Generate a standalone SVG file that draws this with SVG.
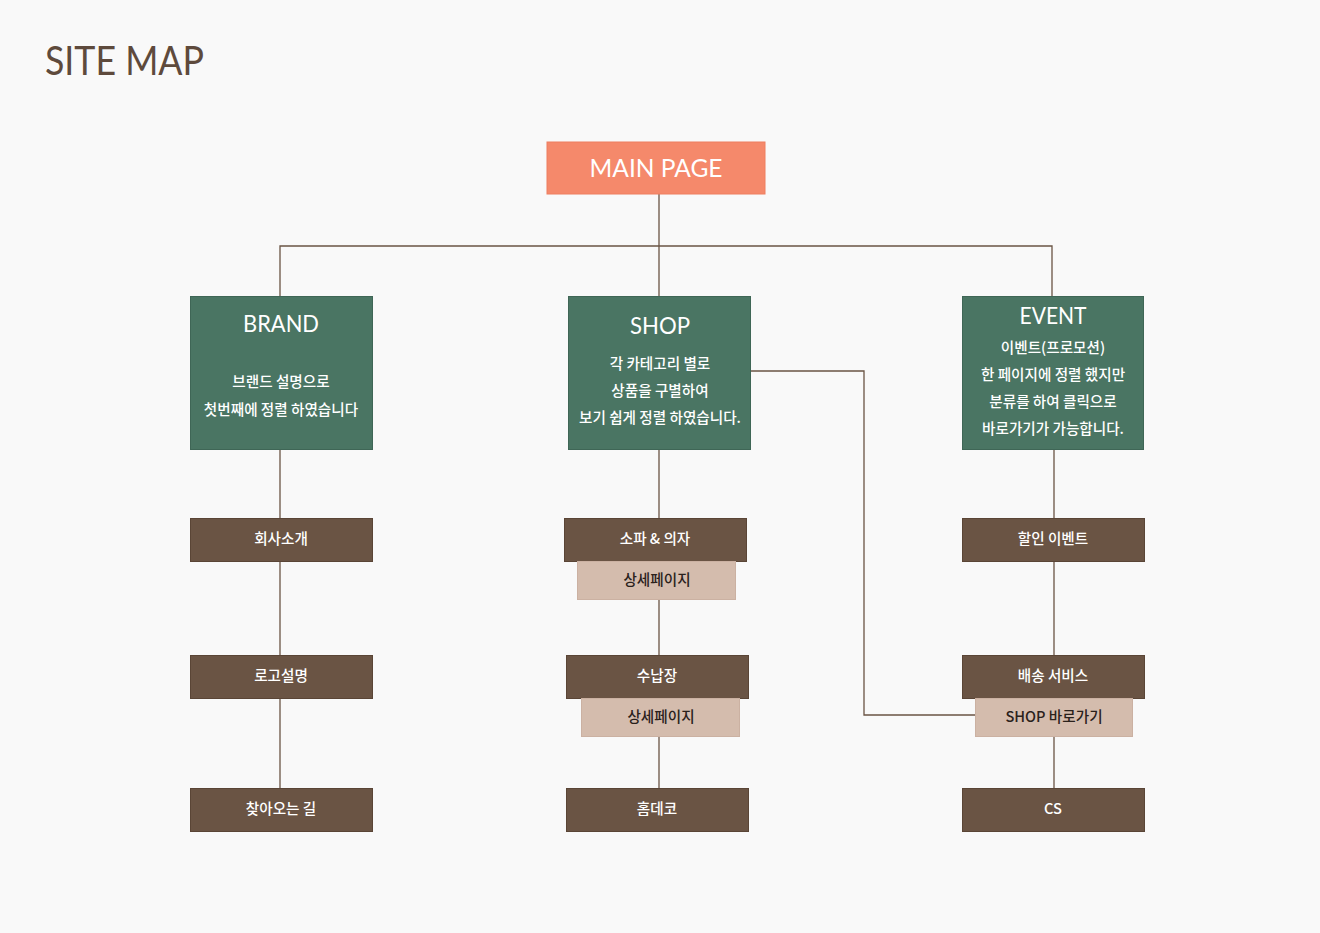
<svg xmlns="http://www.w3.org/2000/svg" width="1320" height="933" viewBox="0 0 1320 933">
<style>
.title{font-family:"Lato","Open Sans","DejaVu Sans",sans-serif;font-weight:400;fill:#FFFFFF;text-anchor:middle}
.green{fill:#4A7563;stroke:#3F6656;stroke-width:1}
.brown{fill:#6A5444;stroke:#5A4536;stroke-width:1}
.beige{fill:#D4BCAD;stroke:#CBB1A2;stroke-width:1}
.kw{font-family:"Noto Sans CJK KR","Noto Sans",sans-serif;font-weight:500;font-size:14.6px;fill:#FFFFFF;text-anchor:middle}
.kd{font-family:"Noto Sans CJK KR","Noto Sans",sans-serif;font-weight:500;font-size:14.6px;fill:#2A211B;text-anchor:middle}
.conn{stroke:#6A5444;stroke-width:1.3;fill:none}
</style>
<rect width="1320" height="933" fill="#F9F9F9"/>
<text x="45" y="75" font-family="Lato,'Open Sans',sans-serif" font-weight="400" font-size="41" fill="#5E4A3C" textLength="159" lengthAdjust="spacingAndGlyphs">SITE MAP</text>
<g id="connectors">
<path class="conn" d="M659 194V296"/>
<path class="conn" d="M280 296V246H1052V296"/>
<path class="conn" d="M280 450V788"/>
<path class="conn" d="M659 450V788"/>
<path class="conn" d="M1054 450V788"/>
<path class="conn" d="M751 371H864V715H975"/>
</g>
<g id="main-page">
<rect x="547" y="142" width="218" height="52" fill="#F5896B" stroke="#EE7F61"/>
<text class="title" x="656" y="177" font-size="25" textLength="133" lengthAdjust="spacingAndGlyphs">MAIN PAGE</text>
</g>
<g id="brand">
<rect class="green" x="190.5" y="296.5" width="182" height="153"/>
<text class="title" x="281" y="332" font-size="24" textLength="76" lengthAdjust="spacingAndGlyphs">BRAND</text>
<text class="kw" x="281" y="387">브랜드 설명으로</text>
<text class="kw" x="281" y="415">첫번째에 정렬 하였습니다</text>
</g>
<g id="shop">
<rect class="green" x="568.5" y="296.5" width="182" height="153"/>
<text class="title" x="660" y="334" font-size="24" textLength="60" lengthAdjust="spacingAndGlyphs">SHOP</text>
<text class="kw" x="660" y="369">각 카테고리 별로</text>
<text class="kw" x="660" y="396">상품을 구별하여</text>
<text class="kw" x="660" y="423">보기 쉽게 정렬 하였습니다.</text>
</g>
<g id="event">
<rect class="green" x="962.5" y="296.5" width="181" height="153"/>
<text class="title" x="1053" y="324" font-size="24" textLength="67" lengthAdjust="spacingAndGlyphs">EVENT</text>
<text class="kw" x="1053" y="353">이벤트(프로모션)</text>
<text class="kw" x="1053" y="380">한 페이지에 정렬 했지만</text>
<text class="kw" x="1053" y="407">분류를 하여 클릭으로</text>
<text class="kw" x="1053" y="434">바로가기가 가능합니다.</text>
</g>
<g id="brand-about">
<rect class="brown" x="190.5" y="518.5" width="182" height="43"/>
<text class="kw" x="281" y="544">회사소개</text>
</g>
<g id="brand-logo">
<rect class="brown" x="190.5" y="655.5" width="182" height="43"/>
<text class="kw" x="281" y="681">로고설명</text>
</g>
<g id="brand-map">
<rect class="brown" x="190.5" y="788.5" width="182" height="43"/>
<text class="kw" x="281" y="814">찾아오는 길</text>
</g>
<g id="shop-sofa">
<rect class="brown" x="564.5" y="518.5" width="182" height="43"/>
<text class="kw" x="655" y="544">소파 &amp; 의자</text>
</g>
<g id="shop-sofa-detail">
<rect class="beige" x="577.5" y="561.5" width="158" height="38"/>
<text class="kd" x="657" y="585">상세페이지</text>
</g>
<g id="shop-storage">
<rect class="brown" x="566.5" y="655.5" width="182" height="43"/>
<text class="kw" x="657" y="681">수납장</text>
</g>
<g id="shop-storage-detail">
<rect class="beige" x="581.5" y="698.5" width="158" height="38"/>
<text class="kd" x="661" y="722">상세페이지</text>
</g>
<g id="shop-homedeco">
<rect class="brown" x="566.5" y="788.5" width="182" height="43"/>
<text class="kw" x="657" y="814">홈데코</text>
</g>
<g id="event-sale">
<rect class="brown" x="962.5" y="518.5" width="182" height="43"/>
<text class="kw" x="1053" y="544">할인 이벤트</text>
</g>
<g id="event-delivery">
<rect class="brown" x="962.5" y="655.5" width="182" height="43"/>
<text class="kw" x="1053" y="681">배송 서비스</text>
</g>
<g id="event-shop-link">
<rect class="beige" x="975.5" y="698.5" width="157" height="38"/>
<text class="kd" x="1054" y="722">SHOP 바로가기</text>
</g>
<g id="event-cs">
<rect class="brown" x="962.5" y="788.5" width="182" height="43"/>
<text class="kw" x="1053" y="814">CS</text>
</g>
</svg>
